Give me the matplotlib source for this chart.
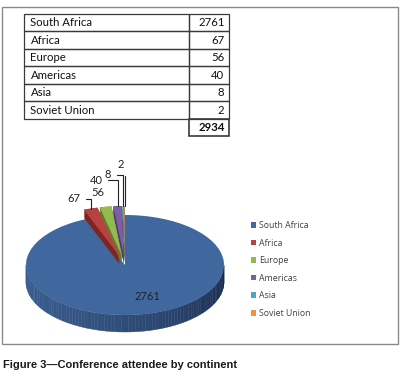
import numpy as np
import matplotlib
matplotlib.use("Agg")
import matplotlib.pyplot as plt
from matplotlib.patches import Wedge, Polygon, Rectangle
import matplotlib.colors as mcolors

categories = ["South Africa", "Africa", "Europe", "Americas", "Asia", "Soviet Union"]
values = [2761, 67, 56, 40, 8, 2]
total_label = "2934"
colors = ["#41689e", "#b8423f", "#94b94f", "#7b5fa0", "#4aa8c6", "#f2913f"]
side_colors = ["#2c4b78", "#7d2623", "#5f7d2c", "#4e3a6e", "#2c7890", "#b0621f"]
explode = [0, 0.18, 0.18, 0.18, 0.18, 0.18]
caption = "Figure 3\u2014Conference attendee by continent"

W, H = 406, 383
fig = plt.figure(figsize=(W / 100, H / 100), dpi=100)
fig.patch.set_facecolor("white")

# overlay axes in pixel coordinates (y down)
ax_o = fig.add_axes([0, 0, 1, 1], zorder=0)
ax_o.set_xlim(0, W)
ax_o.set_ylim(H, 0)
ax_o.axis("off")

# frame
ax_o.add_patch(Rectangle((2.5, 6.5), 396, 337, fill=False, ec="#8a8a8a", lw=1.0))

# table
tx0, tx1, tx2 = 24.5, 189.5, 229.5
ty0, rh = 13.5, 17.5
tfont = dict(family=["Lato", "DejaVu Sans"], fontsize=8.2, color="#111111")
lc = "#3a3a3a"
n = len(categories)
for i, (c, v) in enumerate(zip(categories, values)):
    y = ty0 + i * rh
    ax_o.add_patch(Rectangle((tx0, y), tx1 - tx0, rh, fill=False, ec=lc, lw=0.9))
    ax_o.add_patch(Rectangle((tx1, y), tx2 - tx1, rh, fill=False, ec=lc, lw=0.9))
    ax_o.text(tx0 + 6, y + rh / 2 + 0.5, c, ha="left", va="center", **tfont)
    ax_o.text(tx2 - 5, y + rh / 2 + 0.5, str(v), ha="right", va="center", **tfont)
y = ty0 + n * rh
ax_o.add_patch(Rectangle((tx1, y), tx2 - tx1, rh, fill=False, ec=lc, lw=1.2))
ax_o.text(tx2 - 5, y + rh / 2 + 0.5, total_label, ha="right", va="center",
          fontweight="bold", **tfont)

# caption
ax_o.text(3, 365, caption, ha="left", va="center", fontsize=8.0,
          fontweight="bold", family=["Liberation Sans", "DejaVu Sans"], color="#1a1a1a")

# pie axes (units scaled to an ellipse)
cx, cy = 125, 265          # pixel centre (from top)
rx, ry = 99, 50
depth = 17 / ry
small_depth = 8 / ry
ax_p = fig.add_axes([0, 0, 1, 1], zorder=1)
ax_p.patch.set_alpha(0)
wedges, _ = ax_p.pie(values, startangle=90, counterclock=False, explode=explode,
                     colors=colors, wedgeprops=dict(lw=0))
ax_p.set_aspect("auto")
ax_p.set_xlim(-cx / rx, (W - cx) / rx)
ax_p.set_ylim(-(H - cy) / ry, cy / ry)
ax_p.axis("off")

# front side of the big slice, shaded
base = wedges[0]
light = np.array(mcolors.to_rgb("#3a5d8e"))
dark = np.array(mcolors.to_rgb("#17294a"))
angs = np.linspace(180, 360, 91)
for a0, a1 in zip(angs[:-1], angs[1:]):
    t = (a0 - 180) / 180
    t = t ** 1.6
    col = light * (1 - t) + dark * t
    r0, r1 = np.radians(a0), np.radians(a1)
    pts = [(np.cos(r0), np.sin(r0)), (np.cos(r1), np.sin(r1)),
           (np.cos(r1), np.sin(r1) - depth), (np.cos(r0), np.sin(r0) - depth)]
    ax_p.add_patch(Polygon(pts, closed=True, fc=col, ec=col, lw=0.3, zorder=1))
base.set_zorder(2)

# exploded small slices with thickness
for k, w in enumerate(wedges[1:], start=1):
    c0 = w.center
    for j in range(9):
        off = small_depth * j / 8
        ax_p.add_patch(Wedge((c0[0], c0[1] - off), w.r, w.theta1, w.theta2,
                             fc=side_colors[k], ec="none", zorder=3 + 0.01 * k))
    w.set_zorder(4 + 0.01 * k)

# labels
lab_font = dict(family=["Lato", "DejaVu Sans"], fontsize=8, color="#222222")
ax_p.text(0.23, -0.64, str(values[0]), ha="center", va="center", zorder=6, **lab_font)

label_pos = {1: (74, 199), 2: (98, 193), 3: (96, 180), 4: (108, 175), 5: (121, 165)}
for k in range(1, n):
    w = wedges[k]
    a = np.radians((w.theta1 + w.theta2) / 2)
    tip = (w.center[0] + w.r * np.cos(a), w.center[1] + w.r * np.sin(a))
    px, py = label_pos[k]
    if k == 2:
        ax_p.annotate(str(values[k]), xy=tip, xytext=(px, H - py),
                      textcoords="figure pixels", ha="center", va="center",
                      zorder=6, **lab_font)
    else:
        ax_p.annotate(str(values[k]), xy=tip, xytext=(px, H - py),
                      textcoords="figure pixels", ha="center", va="center", zorder=6,
                      arrowprops=dict(arrowstyle="-", color="#222222", lw=0.8,
                                      shrinkA=2, shrinkB=0,
                                      connectionstyle="angle,angleA=0,angleB=90,rad=0"),
                      **lab_font)

# legend
leg = ax_p.legend(wedges, categories, loc="upper left",
                  bbox_to_anchor=(251 / W, 1 - 221 / H), bbox_transform=fig.transFigure,
                  frameon=False, handlelength=0.6, handleheight=0.6,
                  handletextpad=0.35, labelspacing=0.98, borderaxespad=0, borderpad=0,
                  prop=dict(family=["Open Sans", "DejaVu Sans"], size=6.3))
for t in leg.get_texts():
    t.set_color("#404040")

fig.savefig("out.png", dpi=100, facecolor="white")
